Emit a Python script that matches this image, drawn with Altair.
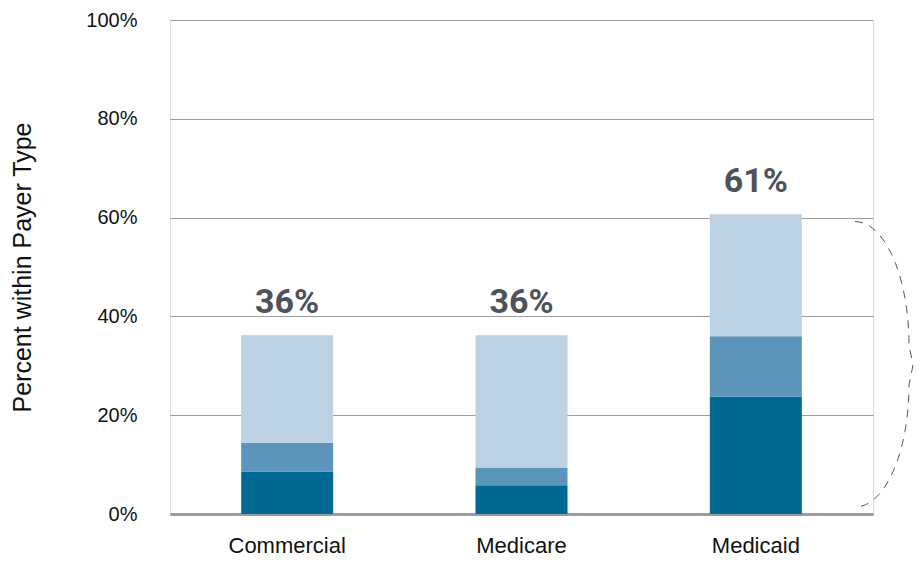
import altair as alt
import numpy as np
import pandas as pd

# ---- data ----
payers = ["Commercial", "Medicare", "Medicaid"]
segments = ["Level 1", "Level 2", "Level 3"]          # bottom -> top
seg_level1 = [8.6, 5.8, 23.8]
seg_level2 = [5.8, 3.6, 12.2]
seg_level3 = [21.8, 26.8, 24.7]
total_labels = ["36%", "36%", "61%"]
seg_colors = ["#006994", "#5b95b9", "#bcd1e2"]

rows = []
for i, p in enumerate(payers):
    for k, (s, vals) in enumerate(zip(segments, [seg_level1, seg_level2, seg_level3])):
        rows.append({"payer": p, "segment": s, "rank": k, "value": vals[i]})
df = pd.DataFrame(rows)

totals = pd.DataFrame({
    "payer": payers,
    "total": [a + b + c for a, b, c in zip(seg_level1, seg_level2, seg_level3)],
    "label": total_labels,
})

# ---- curly-brace annotation next to the Medicaid bar (dashed) ----
W, H = 703, 494
brace_top, brace_mid_hi, brace_mid_lo, brace_bot = 59.2, 34.2, 26.1, 1.4
bx0, bamp, btip = 685, 54, 743
th = np.linspace(0, np.pi / 2, 25)
up_y = brace_mid_hi + (brace_top - brace_mid_hi) * np.cos(th)
up_x = bx0 + bamp * np.sin(th)
lo_y = brace_mid_lo - (brace_mid_lo - brace_bot) * np.sin(th)
lo_x = bx0 + bamp * np.cos(th)
bys = list(up_y) + [(brace_mid_hi + brace_mid_lo) / 2] + list(lo_y)
bxs = list(up_x) + [btip] + list(lo_x)
brace = pd.DataFrame({"i": range(len(bxs)), "bx": bxs, "by": bys})

y_scale = alt.Scale(domain=[0, 100], nice=False)
x_scale = alt.Scale(paddingInner=0, paddingOuter=0)

bars = alt.Chart(df).mark_bar(size=92).encode(
    x=alt.X("payer:N", sort=payers, scale=x_scale,
            axis=alt.Axis(title=None, labelAngle=0, ticks=False, tickSize=0,
                          labelFontSize=22, labelColor="#111111",
                          labelFont="Liberation Sans", labelPadding=21,
                          domainColor="#9c9c9c", domainWidth=3, grid=False)),
    y=alt.Y("value:Q", stack="zero", scale=y_scale,
            axis=alt.Axis(values=[0, 20, 40, 60, 80, 100],
                          labelExpr="datum.value + '%'",
                          title="Percent within Payer Type",
                          titleFontSize=25, titleFontWeight="normal",
                          titleFont="Liberation Sans", titleColor="#111111",
                          titlePadding=50,
                          labelFontSize=20, labelFont="Liberation Sans",
                          labelColor="#111111", labelPadding=33,
                          ticks=False, tickSize=0, domain=False,
                          grid=True, gridColor="#9c9c9c", gridWidth=1.2)),
    color=alt.Color("segment:N", scale=alt.Scale(domain=segments, range=seg_colors),
                    legend=None),
    order=alt.Order("rank:Q"),
)

labels = alt.Chart(totals).mark_text(
    font="Roboto", fontWeight="bold", fontSize=34, color="#4e535b",
    baseline="alphabetic", dy=-22,
).encode(
    x=alt.X("payer:N", sort=payers, scale=x_scale),
    y=alt.Y("total:Q", scale=y_scale),
    text="label:N",
)

brace_line = alt.Chart(brace).mark_line(
    color="#555555", strokeWidth=1, strokeDash=[8, 7], clip=False,
).encode(
    x=alt.X("bx:Q", scale=alt.Scale(domain=[0, W], nice=False, zero=False), axis=None),
    y=alt.Y("by:Q", scale=y_scale),
    order=alt.Order("i:Q"),
)

chart = alt.layer(alt.layer(bars, labels), brace_line).resolve_scale(
    x="independent"
).properties(
    width=W, height=H,
    padding={"left": 162, "top": 12, "right": 42, "bottom": 44},
    autosize=alt.AutoSizeParams(type="none"),
).configure_view(strokeWidth=0, stroke="transparent").configure(background="white")

chart.save("out.html", embed_options={"renderer": "svg", "actions": False})
